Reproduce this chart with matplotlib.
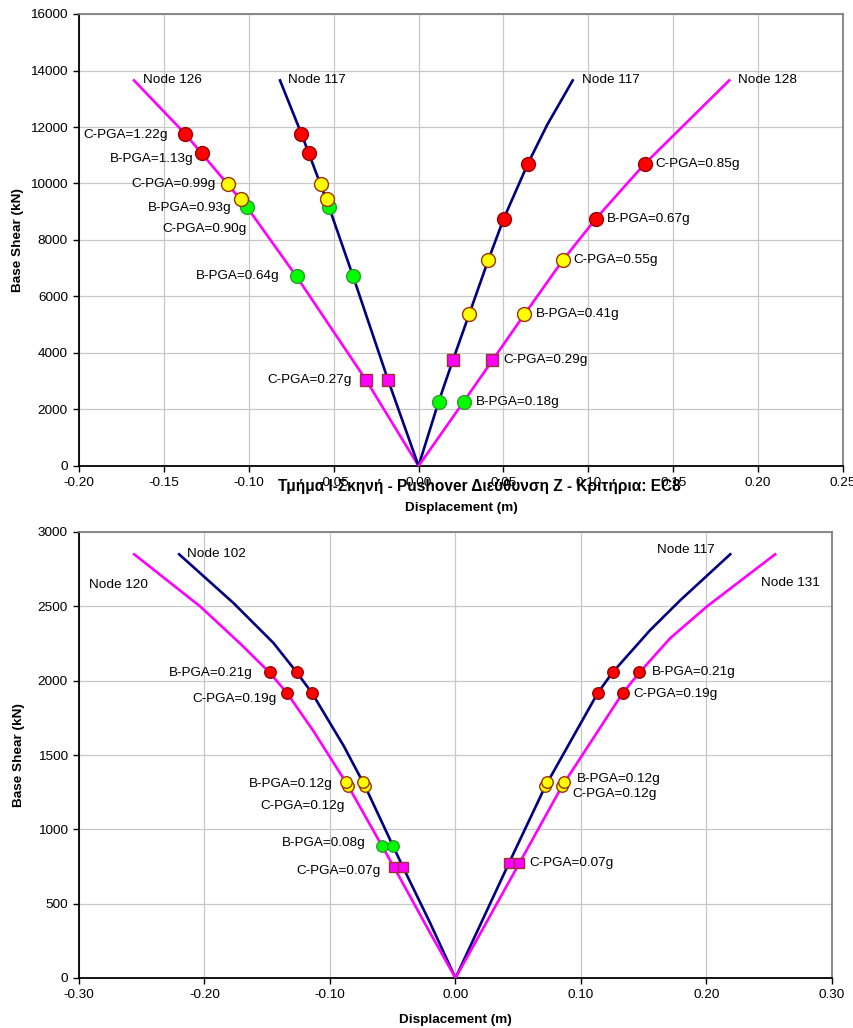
import matplotlib
matplotlib.use("Agg")
import matplotlib.pyplot as plt
from matplotlib.ticker import FormatStrFormatter

plt.rcParams['font.family'] = ['Liberation Sans', 'DejaVu Sans']

NAVY = "#000080"
MAGENTA = "#FF00FF"

# ---------------- top chart data ----------------
top_n126_x = [0, -0.031, -0.072, -0.101, -0.1375, -0.1676]
top_n126_y = [0, 3050, 6720, 9160, 11760, 13650]
top_n117l_x = [0, -0.018, -0.0386, -0.0527, -0.069, -0.0816]
top_n117l_y = [0, 3050, 6720, 9160, 11760, 13650]
top_n117r_x = [0, 0.0118, 0.0202, 0.0298, 0.041, 0.0502, 0.0643, 0.0757, 0.0908]
top_n117r_y = [0, 2270, 3740, 5370, 7280, 8760, 10690, 12070, 13650]
top_n128_x = [0, 0.0265, 0.0435, 0.0624, 0.0849, 0.1045, 0.1331, 0.183]
top_n128_y = [0, 2270, 3740, 5370, 7280, 8760, 10690, 13650]

top_red_x = [-0.1375, -0.1275, -0.069, -0.0645, 0.0643, 0.0502, 0.1331, 0.1045]
top_red_y = [11760, 11080, 11760, 11080, 10690, 8760, 10690, 8760]
top_yel_x = [-0.112, -0.1047, -0.0576, -0.0541, 0.041, 0.0298, 0.0849, 0.0624]
top_yel_y = [9990, 9440, 9990, 9440, 7280, 5370, 7280, 5370]
top_grn_x = [-0.1008, -0.0716, -0.0527, -0.0386, 0.0118, 0.0265]
top_grn_y = [9160, 6720, 9160, 6720, 2270, 2270]
top_sq_x = [-0.0308, -0.018, 0.0202, 0.0435]
top_sq_y = [3050, 3050, 3740, 3740]

# label text, anchor point, offset in pixels
top_labels = [
    ("C-PGA=1.22g", -0.1375, 11760, -17, -1, "right"),
    ("B-PGA=1.13g", -0.1275, 11080, -9, -6, "right"),
    ("C-PGA=0.99g", -0.112, 9990, -13, 0, "right"),
    ("B-PGA=0.93g", -0.1047, 9440, -9, -9, "right"),
    ("C-PGA=0.90g", -0.1008, 9160, -1, -22, "right"),
    ("B-PGA=0.64g", -0.0716, 6720, -17, 0, "right"),
    ("C-PGA=0.27g", -0.0308, 3050, -15, 0, "right"),
    ("C-PGA=0.85g", 0.1331, 10690, 11, 0, "left"),
    ("B-PGA=0.67g", 0.1045, 8760, 11, 0, "left"),
    ("C-PGA=0.55g", 0.0849, 7280, 11, 0, "left"),
    ("B-PGA=0.41g", 0.0624, 5370, 11, 0, "left"),
    ("C-PGA=0.29g", 0.0435, 3740, 11, 0, "left"),
    ("B-PGA=0.18g", 0.0265, 2270, 12, 0, "left"),
]

# ---------------- bottom chart data ----------------
bot_n102_x = [0, -0.0202, -0.0419, -0.0499, -0.072, -0.089, -0.1142, -0.1264, -0.145, -0.1769, -0.2202]
bot_n102_y = [0, 370, 747, 890, 1289, 1560, 1915, 2055, 2253, 2522, 2850]
bot_n120_x = [0, -0.0202, -0.0491, -0.0587, -0.0853, -0.1131, -0.1341, -0.1482, -0.1716, -0.2034, -0.256]
bot_n120_y = [0, 303, 747, 890, 1289, 1660, 1915, 2055, 2250, 2499, 2850]
bot_n117_x = [0, 0.0425, 0.0715, 0.1132, 0.1251, 0.1551, 0.179, 0.2189]
bot_n117_y = [0, 771, 1289, 1915, 2055, 2340, 2540, 2850]
bot_n131_x = [0, 0.0508, 0.0848, 0.1331, 0.1466, 0.171, 0.2003, 0.2547]
bot_n131_y = [0, 771, 1289, 1915, 2055, 2285, 2499, 2850]

bot_red_x = [-0.1482, -0.1341, -0.1264, -0.1142, 0.1251, 0.1132, 0.1466, 0.1331]
bot_red_y = [2055, 1915, 2055, 1915, 2055, 1915, 2055, 1915]
bot_yelC_x = [-0.0853, -0.072, 0.0715, 0.0848]
bot_yelC_y = [1289, 1289, 1289, 1289]
bot_yelB_x = [-0.0871, -0.0741, 0.0733, 0.0866]
bot_yelB_y = [1316, 1316, 1316, 1316]
bot_grn_x = [-0.0587, -0.0499]
bot_grn_y = [890, 890]
bot_sq_x = [-0.0491, -0.0419, 0.0425, 0.0508]
bot_sq_y = [747, 747, 771, 771]

bot_labels = [
    ("B-PGA=0.21g", -0.1482, 2055, -17, -1, "right"),
    ("C-PGA=0.19g", -0.1341, 1915, -11, -6, "right"),
    ("B-PGA=0.12g", -0.0871, 1316, -14, -2, "right"),
    ("C-PGA=0.12g", -0.0853, 1289, -4, -20, "right"),
    ("B-PGA=0.08g", -0.0587, 890, -16, 3, "right"),
    ("C-PGA=0.07g", -0.0491, 747, -13, -4, "right"),
    ("B-PGA=0.21g", 0.1466, 2055, 12, 0, "left"),
    ("C-PGA=0.19g", 0.1331, 1915, 11, -1, "left"),
    ("B-PGA=0.12g", 0.0866, 1316, 13, 3, "left"),
    ("C-PGA=0.12g", 0.0848, 1289, 10, -8, "left"),
    ("C-PGA=0.07g", 0.0508, 771, 10, 0, "left"),
]

title = "Τμήμα Ι-Σκηνή - Pushover Διεύθυνση Z - Κριτήρια: EC8"

FS = 9.7


def style_axes(ax, xlim, xticks, ylim, yticks, ylab_x):
    ax.set_xlim(*xlim)
    ax.set_ylim(*ylim)
    ax.set_xticks(xticks)
    ax.set_yticks(yticks)
    ax.xaxis.set_major_formatter(FormatStrFormatter("%.2f"))
    ax.grid(True, color="#C8C8C8", lw=0.9)
    ax.set_axisbelow(True)
    for s in ["left", "bottom"]:
        ax.spines[s].set_color("black")
        ax.spines[s].set_linewidth(1.3)
    for s in ["top", "right"]:
        ax.spines[s].set_color("#808080")
        ax.spines[s].set_linewidth(1.3)
    ax.tick_params(direction="out", length=4, width=1, pad=4, labelsize=FS)
    ax.set_xlabel("Displacement (m)", fontsize=FS, fontweight="bold", labelpad=9)
    ax.set_ylabel("Base Shear (kN)", fontsize=FS, fontweight="bold")
    ax.yaxis.set_label_coords(ylab_x, 0.5)


def markers(ax, xs, ys, kind, ms):
    if kind == "red":
        ax.plot(xs, ys, "o", ms=ms, mfc="#FF0000", mec="#990000", mew=1, zorder=4)
    elif kind == "yellow":
        ax.plot(xs, ys, "o", ms=ms, mfc="#FFFF00", mec="#993300", mew=1, zorder=4)
    elif kind == "green":
        ax.plot(xs, ys, "o", ms=ms, mfc="#00FF00", mec="#339933", mew=1, zorder=4)
    else:
        ax.plot(xs, ys, "s", ms=ms, mfc="#FF00FF", mec="#993333", mew=1, zorder=4)


def label(ax, text, x, y, dx, dy, ha):
    ax.annotate(text, (x, y), xytext=(dx, dy), textcoords="offset pixels",
                ha=ha, va="center", fontsize=FS, zorder=5)


fig = plt.figure(figsize=(8.54, 10.28), dpi=100)

# top chart
ax1 = fig.add_axes([79 / 854, 1 - 466 / 1028, (843 - 79) / 854, (466 - 14) / 1028])
ax1.plot(top_n126_x, top_n126_y, color=MAGENTA, lw=1.9, zorder=3)
ax1.plot(top_n117l_x, top_n117l_y, color=NAVY, lw=1.9, zorder=3)
ax1.plot(top_n117r_x, top_n117r_y, color=NAVY, lw=1.9, zorder=3)
ax1.plot(top_n128_x, top_n128_y, color=MAGENTA, lw=1.9, zorder=3)
markers(ax1, top_red_x, top_red_y, "red", 10)
markers(ax1, top_grn_x, top_grn_y, "green", 10)
markers(ax1, top_yel_x, top_yel_y, "yellow", 10)
markers(ax1, top_sq_x, top_sq_y, "square", 8)
label(ax1, "Node 126", top_n126_x[-1], top_n126_y[-1], 9, 0, "left")
label(ax1, "Node 117", top_n117l_x[-1], top_n117l_y[-1], 8, 0, "left")
label(ax1, "Node 117", top_n117r_x[-1], top_n117r_y[-1], 9, 0, "left")
label(ax1, "Node 128", top_n128_x[-1], top_n128_y[-1], 9, 0, "left")
for t in top_labels:
    label(ax1, *t)
style_axes(ax1, (-0.20, 0.25), [-0.20, -0.15, -0.10, -0.05, 0.0, 0.05, 0.10, 0.15, 0.20, 0.25],
           (0, 16000), range(0, 16001, 2000), (24 - 79) / 764)

# bottom chart
ax2 = fig.add_axes([79 / 854, 1 - 978 / 1028, (832 - 79) / 854, (978 - 532) / 1028])
ax2.plot(bot_n102_x, bot_n102_y, color=NAVY, lw=1.9, zorder=3)
ax2.plot(bot_n120_x, bot_n120_y, color=MAGENTA, lw=1.9, zorder=3)
ax2.plot(bot_n117_x, bot_n117_y, color=NAVY, lw=1.9, zorder=3)
ax2.plot(bot_n131_x, bot_n131_y, color=MAGENTA, lw=1.9, zorder=3)
markers(ax2, bot_red_x, bot_red_y, "red", 8.3)
markers(ax2, bot_yelC_x, bot_yelC_y, "yellow", 8.3)
markers(ax2, bot_yelB_x, bot_yelB_y, "yellow", 8.3)
markers(ax2, bot_grn_x, bot_grn_y, "green", 8.3)
markers(ax2, bot_sq_x, bot_sq_y, "square", 7.3)
label(ax2, "Node 102", bot_n102_x[-1], bot_n102_y[-1], 8, 0, "left")
label(ax2, "Node 120", bot_n120_x[-1], bot_n120_y[-1], -45, -31, "left")
label(ax2, "Node 117", bot_n117_x[-1], bot_n117_y[-1], -15, 4, "right")
label(ax2, "Node 131", bot_n131_x[-1], bot_n131_y[-1], -14, -29, "left")
for t in bot_labels:
    label(ax2, *t)
style_axes(ax2, (-0.30, 0.30), [-0.30, -0.20, -0.10, 0.0, 0.10, 0.20, 0.30],
           (0, 3000), range(0, 3001, 500), (25 - 79) / 753)

fig.text(479 / 854, 1 - 487 / 1028, title, ha="center", va="center",
         fontsize=11.2, fontweight="bold")

fig.savefig("out.png", dpi=100)
